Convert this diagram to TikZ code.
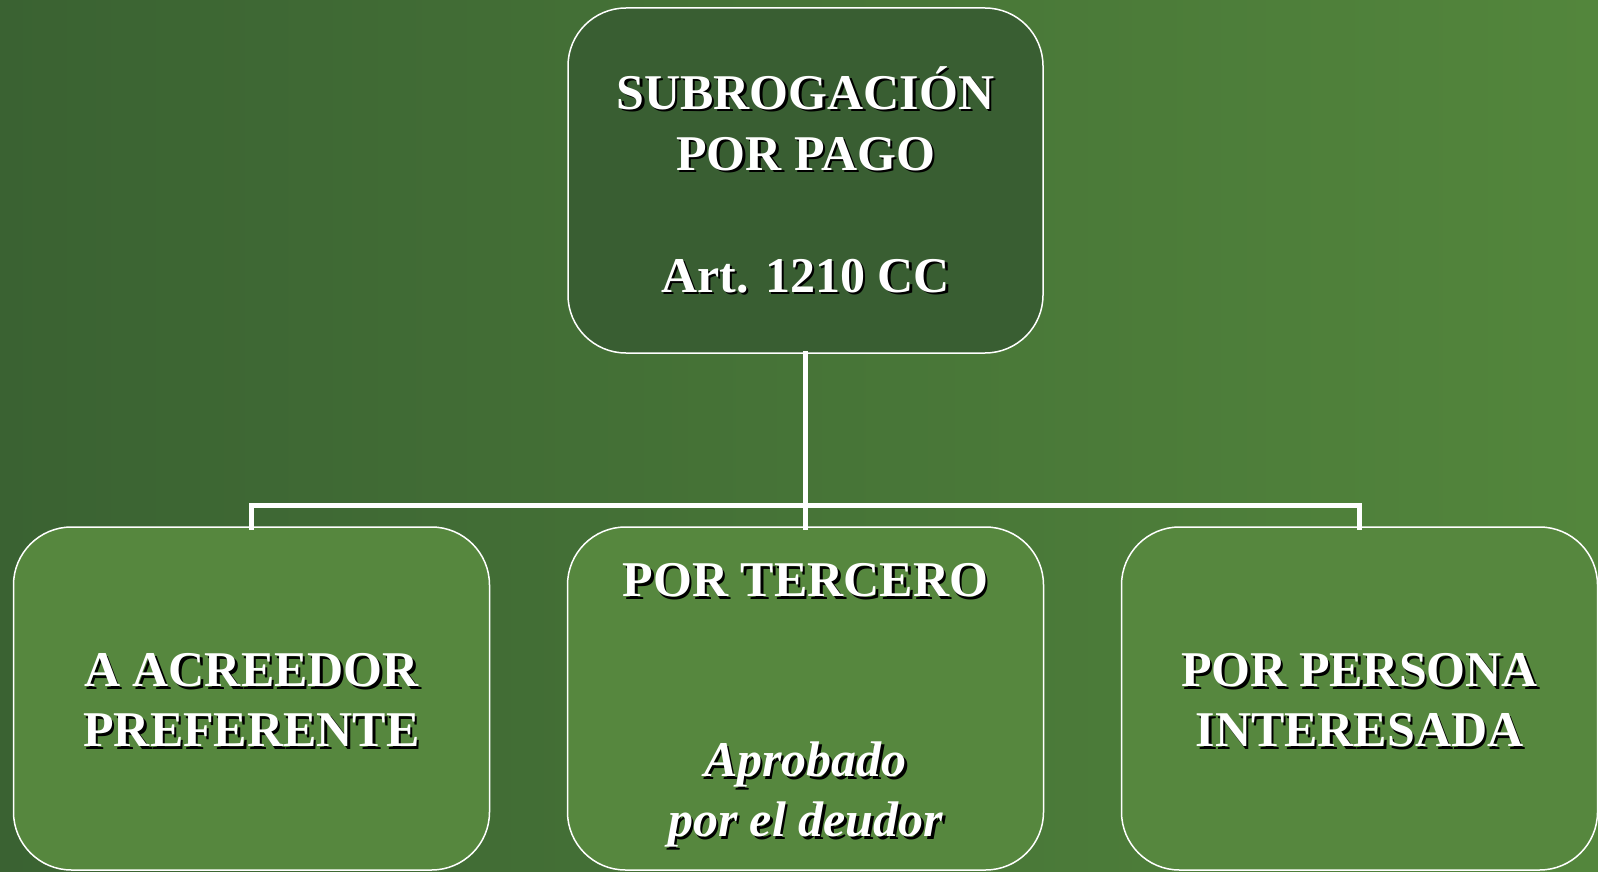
\documentclass[tikz,border=0pt]{standalone}
\usepackage{fontspec}
\setmainfont{Liberation Serif}
\definecolor{bgleft}{HTML}{3A6232}
\definecolor{bgright}{HTML}{53863C}
\definecolor{topfill}{HTML}{395E32}
\definecolor{botfill}{HTML}{56873E}
\begin{document}
\begin{tikzpicture}[x=1pt,y=-1pt,
  box/.style={draw=white, line width=1.5pt, rounded corners=58pt, inner sep=0pt, outer sep=0pt},
  topbox/.style={box, fill=topfill, minimum width=475pt, minimum height=345pt},
  botbox/.style={box, fill=botfill, minimum width=476pt, minimum height=343pt},
  txtbase/.style={align=center, inner sep=0pt},
  txt/.style={txtbase, text=white},
  shd/.style={txtbase, text=black},
  bigfont/.style={font=\fontsize{50pt}{61pt}\selectfont\bfseries},
  botfont/.style={font=\fontsize{50pt}{60pt}\selectfont\bfseries},
  conn/.style={draw=white, line width=5pt, line cap=rect, line join=miter}]
\useasboundingbox (0,0) rectangle (1598,872);
\shade[left color=bgleft, right color=bgright] (0,0) rectangle (1598,872);

% boxes
\node[topbox] (top) at (805.5,180.5) {};
\node[botbox] (left) at (251.5,698.5) {};
\node[botbox] (mid) at (805.5,698.5) {};
\node[botbox] (right) at (1359.5,698.5) {};

% connectors
\coordinate (bus) at (805.5,505.5);
\draw[conn] (top.south) -- (bus);
\draw[conn] (mid.north) -- (bus);
\draw[conn] (left.north) |- (bus) -| (right.north);

% texts with drop shadow
\node[shd, bigfont] (topS) at (808,182) {SUBROGACIÓN\\POR PAGO\\[61pt]Art. 1210 CC};
\node[txt, bigfont] (topT) at (805.5,179.5) {SUBROGACIÓN\\POR PAGO\\[61pt]Art. 1210 CC};

\node[shd, botfont] (leftS) at (254,702.5) {A ACREEDOR\\PREFERENTE};
\node[txt, botfont] (leftT) at (251.5,700) {A ACREEDOR\\PREFERENTE};

\node[shd, botfont] (midS) at (808,708) {POR TERCERO\\[120pt]\itshape Aprobado\hspace*{16pt}\\\itshape por el deudor};
\node[txt, botfont] (midT) at (805.5,705.5) {POR TERCERO\\[120pt]\itshape Aprobado\hspace*{16pt}\\\itshape por el deudor};

\node[shd, botfont] (rightS) at (1362,703) {POR PERSONA\\INTERESADA};
\node[txt, botfont] (rightT) at (1359.5,700.5) {POR PERSONA\\INTERESADA};
\end{tikzpicture}
\end{document}
